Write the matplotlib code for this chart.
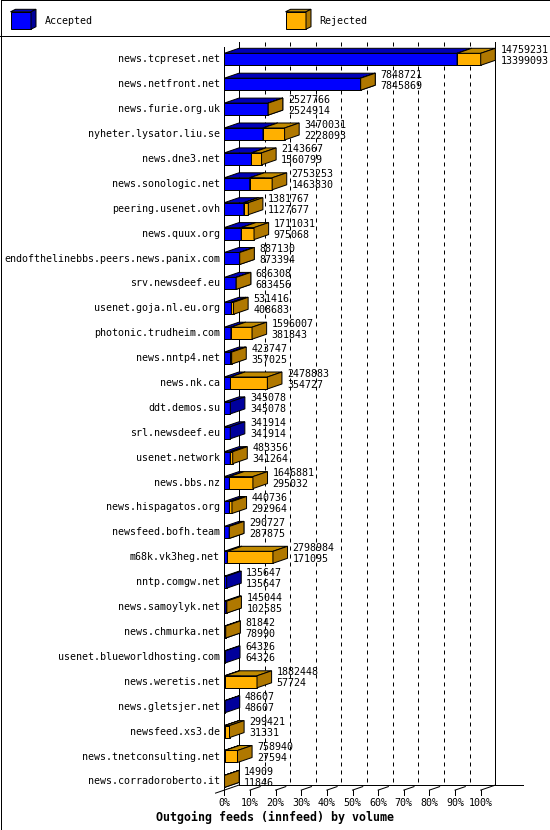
import matplotlib
matplotlib.use("Agg")
import matplotlib.pyplot as plt
from matplotlib.patches import Polygon

# feeds, sorted by accepted volume
hosts = ["news.tcpreset.net", "news.netfront.net", "news.furie.org.uk",
         "nyheter.lysator.liu.se", "news.dne3.net", "news.sonologic.net",
         "peering.usenet.ovh", "news.quux.org",
         "endofthelinebbs.peers.news.panix.com", "srv.newsdeef.eu",
         "usenet.goja.nl.eu.org", "photonic.trudheim.com", "news.nntp4.net",
         "news.nk.ca", "ddt.demos.su", "srl.newsdeef.eu", "usenet.network",
         "news.bbs.nz", "news.hispagatos.org", "newsfeed.bofh.team",
         "m68k.vk3heg.net", "nntp.comgw.net", "news.samoylyk.net",
         "news.chmurka.net", "usenet.blueworldhosting.com", "news.weretis.net",
         "news.gletsjer.net", "newsfeed.xs3.de", "news.tnetconsulting.net",
         "news.corradoroberto.it"]
offered = [14759231, 7848721, 2527766, 3470031, 2143667, 2753253, 1381767,
           1711031, 887130, 686308, 531416, 1596007, 423747, 2478883, 345078,
           341914, 483356, 1646881, 440736, 290727, 2798984, 135647, 145044,
           81842, 64326, 1882448, 48607, 299421, 758940, 14909]
accepted = [13399093, 7845869, 2524914, 2228093, 1560799, 1463830, 1127677,
            975068, 873394, 683456, 408683, 381843, 357025, 354727, 345078,
            341914, 341264, 295032, 292964, 287875, 171095, 135647, 102585,
            78990, 64326, 57724, 48607, 31331, 27594, 11846]
ticks = [0, 10, 20, 30, 40, 50, 60, 70, 80, 90, 100]
tick_labels = ["%d%%" % t for t in ticks]

BLUE = ("#0000ff", "#0000b8", "#00009c")
ORANGE = ("#ffb000", "#c08a00", "#b07800")
MONO = "DejaVu Sans Mono"
LW = 0.72

# pixel geometry of the reference picture
W, H = 550, 830
sx = 2.564          # px per percent
x_zero = 224.3      # px of 0%
row0, pitch = 59.3, 24.9
dx = 14.6 / sx      # depth in percent
dy = 5.0 / pitch    # depth in rows
half = 6.0 / pitch  # half height of front face in rows

fig = plt.figure(figsize=(W / 100, H / 100), dpi=100)
ax = fig.add_axes([0, 0, 1, 1])
ax.set_xlim(-x_zero / sx, (W - x_zero) / sx)
ax.set_ylim((H - row0) / pitch, -row0 / pitch)
ax.axis("off")


def box(a, x0, x1, y, h, ddx, ddy, cols, z):
    front, top, side = cols
    kw = dict(closed=True, ec="black", lw=LW, joinstyle="miter", zorder=z)
    a.add_patch(Polygon([(x0, y - h), (x1, y - h), (x1, y + h), (x0, y + h)],
                        fc=front, **kw))
    a.add_patch(Polygon([(x0, y - h), (x0 + ddx, y - h - ddy),
                         (x1 + ddx, y - h - ddy), (x1, y - h)], fc=top, **kw))
    a.add_patch(Polygon([(x1, y - h), (x1 + ddx, y - h - ddy),
                         (x1 + ddx, y + h - ddy), (x1, y + h)], fc=side, **kw))


n = len(hosts)
vmax = max(offered)
grid_top = -0.695
floor = n - 1 + 0.35

# back wall / grid
for t in ticks:
    if t in (0, 100):
        ax.plot([t + dx, t + dx], [grid_top, floor - dy], color="black", lw=LW, zorder=1)
    else:
        ax.plot([t + dx, t + dx], [grid_top, floor - dy], color="black", lw=LW,
                ls=(0, (4, 4)), zorder=1)
ax.plot([0, 0], [grid_top + dy, floor], color="black", lw=LW, zorder=1)
ax.plot([dx, 116.5], [floor - dy, floor - dy], color="black", lw=LW, zorder=1)
ax.plot([-dx * 0.6, dx], [floor + dy * 0.6, floor - dy], color="black", lw=LW, zorder=1)

# floor ticks
for t, lab in zip(ticks, tick_labels):
    ax.plot([t, t], [floor, floor + 5.0 / pitch], color="black", lw=LW, zorder=1)
    k = 1.0 if t == 100 else 0.7
    if t > 0:
        ax.plot([t, t + dx * k], [floor, floor - dy * k], color="black", lw=LW, zorder=1)
    ax.annotate(lab, (t, floor), xytext=(0, -9.5), textcoords="offset points",
                ha="center", va="center", family=MONO, fontsize=7.2)

# bars
for i in range(n):
    acc = accepted[i] / vmax * 100
    tot = offered[i] / vmax * 100
    box(ax, 0, acc, i, half, dx, dy, BLUE, 3)
    if tot > acc:
        box(ax, acc, tot, i, half, dx, dy, ORANGE, 3)
    ax.annotate(hosts[i], (0, i), xytext=(-3.1, 0), textcoords="offset points",
                ha="right", va="center", family=MONO, fontsize=7.2)
    ax.annotate(str(offered[i]), (tot + dx, i), xytext=(3.6, 6.8),
                textcoords="offset points", ha="left", va="center",
                family=MONO, fontsize=7.2, zorder=5)
    ax.annotate(str(accepted[i]), (tot + dx, i), xytext=(3.6, -1.1),
                textcoords="offset points", ha="left", va="center",
                family=MONO, fontsize=7.2, zorder=5)

# legend and frame, in pixel units
ov = fig.add_axes([0, 0, 1, 1])
ov.set_xlim(0, W)
ov.set_ylim(H, 0)
ov.axis("off")
box(ov, 10.5, 31, 20.5, 8.7, 5, 2.5, BLUE, 3)
ov.text(44.5, 20.5, "Accepted", family=MONO, fontsize=7.2, va="center")
box(ov, 285.5, 306, 20.5, 8.7, 5, 2.5, ORANGE, 3)
ov.text(319.2, 20.5, "Rejected", family=MONO, fontsize=7.2, va="center")
ov.plot([0, W], [36, 36], color="black", lw=LW)
ov.plot([0.5, W - 0.5, W - 0.5, 0.5, 0.5], [0.5, 0.5, H - 0.5, H - 0.5, 0.5],
        color="black", lw=LW)
ov.text(275, 817, "Outgoing feeds (innfeed) by volume", family=MONO,
        fontweight="bold", fontsize=8.4, ha="center", va="center")

fig.savefig("out.png", dpi=100)
